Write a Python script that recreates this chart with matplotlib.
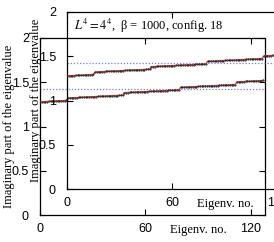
import matplotlib
matplotlib.use('Agg')
import matplotlib.pyplot as plt
import matplotlib.transforms as mtrans

plt.rcParams['font.family'] = ['Liberation Sans', 'DejaVu Sans']
plt.rcParams['mathtext.fontset'] = 'stix'

# eigenvalue staircase (imaginary parts), 128 eigenvalues in 5 near-degenerate groups
eig_index = list(range(128))
eig_imag = [
    1.278, 1.279, 1.280, 1.281, 1.282, 1.283, 1.284, 1.285, 1.286, 1.287, 1.288, 1.289, 1.290, 1.291, 1.292, 1.294,
    1.322, 1.323, 1.324, 1.325, 1.326, 1.327, 1.328, 1.329, 1.330, 1.331, 1.332, 1.333, 1.334, 1.335, 1.336, 1.337,
    1.338, 1.339, 1.340, 1.341, 1.342, 1.343, 1.344, 1.345, 1.346, 1.347, 1.348, 1.349, 1.350, 1.351, 1.352, 1.354,
    1.382, 1.383, 1.384, 1.385, 1.386, 1.387, 1.388, 1.389, 1.390, 1.391, 1.392, 1.393, 1.394, 1.395, 1.396, 1.397,
    1.398, 1.399, 1.400, 1.401, 1.402, 1.403, 1.404, 1.405, 1.406, 1.407, 1.408, 1.409, 1.410, 1.411, 1.412, 1.414,
    1.442, 1.443, 1.444, 1.445, 1.446, 1.447, 1.448, 1.449, 1.450, 1.451, 1.452, 1.453, 1.454, 1.455, 1.456, 1.457,
    1.458, 1.459, 1.460, 1.461, 1.462, 1.463, 1.464, 1.465, 1.466, 1.467, 1.468, 1.469, 1.470, 1.471, 1.472, 1.474,
    1.504, 1.505, 1.506, 1.507, 1.508, 1.509, 1.510, 1.511, 1.512, 1.514, 1.515, 1.516, 1.517, 1.518, 1.519, 1.521,
]
ref_level = 1.42  # blue dotted reference line
x_ticks = [0, 60, 120]
y_ticks = [0, 0.5, 1, 1.5, 2]
y_ticklabels = ['0', '0.5', '1', '1.5', '2']
title_txt = r'$L^4 = 4^4$,  β = 1000, config. 18'

W, H = 274, 242
fig = plt.figure(figsize=(W / 100, H / 100), dpi=100)

def draw_panel(left, top, with_text):
    w, h = 225, 177
    ax = fig.add_axes([left / W, (H - top - h) / H, w / W, h / H])
    ax.patch.set_alpha(0)
    ax.plot(eig_index, eig_imag, '-', color='#d84848', lw=1.0, zorder=3)
    ax.plot(eig_index, eig_imag, '.', color='#202020', ms=1.0, zorder=4)
    ax.axhline(ref_level, color='#7878ff', lw=0.9, ls=(0, (1, 1.5)), zorder=2)
    ax.set_xlim(0, 128)
    ax.set_ylim(0, 2)
    ax.set_xticks(x_ticks)
    ax.set_yticks(y_ticks)
    ax.set_yticklabels(y_ticklabels)
    ax.tick_params(direction='in', length=4, width=0.8, top=True, right=True,
                   labelsize=9)
    ax.tick_params(axis='x', pad=6)
    ax.tick_params(axis='y', pad=8)
    for s in ax.spines.values():
        s.set_linewidth(0.9)
    ax.set_ylabel('Imaginary part of the eigenvalue', family='Liberation Serif', fontsize=9)
    ax.yaxis.set_label_coords(-0.11, 0.5)
    trans = mtrans.blended_transform_factory(ax.transData, ax.transAxes)
    ax.text(90, -0.085, 'Eigenv. no.', transform=trans, ha='center', va='center',
            family='Liberation Serif', fontsize=9)
    if with_text:
        ax.text(0.03, 0.975, title_txt, transform=ax.transAxes, ha='left', va='top',
                family='Liberation Serif', fontsize=9)
    return ax

draw_panel(40, 38, False)
draw_panel(67, 12, True)

fig.savefig('out.png', dpi=100)
